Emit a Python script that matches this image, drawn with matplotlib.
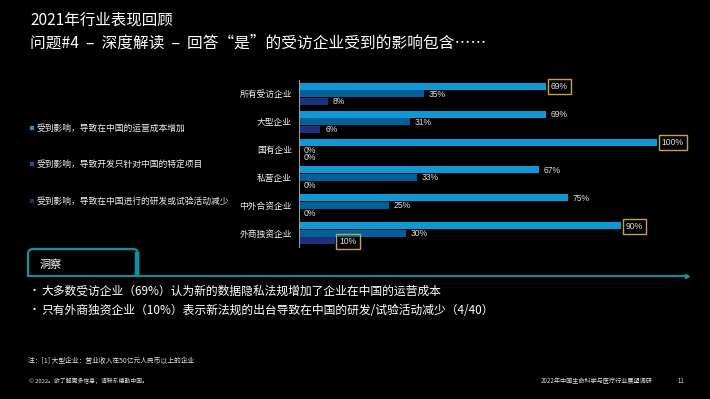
import matplotlib
matplotlib.use("Agg")
import matplotlib.pyplot as plt
from matplotlib.path import Path
from matplotlib.patches import PathPatch, Rectangle

plt.rcParams['font.family'] = ['Noto Sans CJK SC', 'DejaVu Sans']

categories = ["所有受访企业", "大型企业", "国有企业", "私营企业", "中外合资企业", "外商独资企业"]
series_names = ["受到影响，导致在中国的运营成本增加",
                "受到影响，导致开发只针对中国的特定项目",
                "受到影响，导致在中国进行的研发或试验活动减少"]
cost_increase = [69, 69, 100, 67, 75, 90]
china_projects = [35, 31, 0, 33, 25, 30]
rd_reduced = [8, 6, 0, 0, 0, 10]
# highlighted (series index, category index)
highlights = [(0, 0), (0, 2), (0, 5), (2, 5)]

title = "2021年行业表现回顾"
subtitle = "问题#4 – 深度解读 – 回答“是”的受访企业受到的影响包含……"
insight_title = "洞察"
bullets = ["大多数受访企业（69%）认为新的数据隐私法规增加了企业在中国的运营成本",
           "只有外商独资企业（10%）表示新法规的出台导致在中国的研发/试验活动减少（4/40）"]
footnote = "注：[1] 大型企业：营业收入在50亿元人民币以上的企业"
copyright_txt = "© 2022。欲了解更多信息，请联系德勤中国。"
footer_right = "2022年中国生命科学与医疗行业展望调研"
page_no = "11"

colors = ["#0a9ad8", "#00609a", "#1d2f7d"]
teal = "#0097a9"
gold = "#c9a43a"

W, H = 710, 399
fig = plt.figure(figsize=(W / 100, H / 100), dpi=100, facecolor="black")

# overlay in pixel coordinates
ov = fig.add_axes([0, 0, 1, 1], facecolor="none")
ov.set_xlim(0, W)
ov.set_ylim(H, 0)
ov.axis("off")

# bar chart axes
x0, x1, y0, y1 = 299, 657, 80, 247
ax = fig.add_axes([x0 / W, 1 - y1 / H, (x1 - x0) / W, (y1 - y0) / H], facecolor="none")
ax.set_xlim(0, 100)
ax.set_ylim(5.5, -0.5)
for s in ["top", "right", "bottom"]:
    ax.spines[s].set_visible(False)
ax.spines["left"].set_color("#9a9a9a")
ax.spines["left"].set_linewidth(0.8)
ax.set_xticks([])
ax.set_yticks(range(len(categories)))
ax.set_yticklabels(categories, color="#f0f0f0", fontsize=6.3)
ax.tick_params(axis="y", length=0, pad=5)

series = [cost_increase, china_projects, rd_reduced]
offsets = [-0.27, 0.0, 0.27]
bh = 0.25
num_font = ['Liberation Sans Narrow', 'Liberation Sans', 'DejaVu Sans']
for si, (vals, off, c) in enumerate(zip(series, offsets, colors)):
    ys = [i + off for i in range(len(categories))]
    ax.barh(ys, vals, height=bh, color=c, linewidth=0)
    for ci, (v, y) in enumerate(zip(vals, ys)):
        hl = (si, ci) in highlights
        kw = {}
        if hl:
            kw["bbox"] = dict(boxstyle="square,pad=0.35", fc="none", ec=gold, lw=1.0)
        ax.text(v + 1.3, y + 0.02, f"{v}%", va="center", ha="left", fontsize=6.2,
                color="#e0e0e0", family=num_font, clip_on=False, **kw)

# titles
ov.text(30, 20, title, color="white", fontsize=11.2, va="center", ha="left")
ov.text(30, 43, subtitle.replace("#4 – ", "#4  –  ").replace("解读 – ", "解读  –  "),
        color="white", fontsize=11.3, va="center", ha="left")

# legend
leg_y = [128, 164, 201]
for name, c, y in zip(series_names, colors, leg_y):
    ov.add_patch(Rectangle((29.5, y - 2.3), 4.6, 4.6, color=c, lw=0))
    ov.text(37, y, name, color="#f0f0f0", fontsize=6.3, va="center", ha="left")

# insight tab
L, R, T, B, r = 28, 138, 249, 276, 5
verts = [(L, B), (L, T + r), (L, T), (L + r, T), (R - r, T), (R, T), (R, T + r), (R, B)]
codes = [Path.MOVETO, Path.LINETO, Path.CURVE3, Path.CURVE3, Path.LINETO, Path.CURVE3, Path.CURVE3, Path.LINETO]
ov.add_patch(PathPatch(Path(verts, codes), fc="none", ec=teal, lw=1.6))
ov.plot([R - 1.2, R - 1.2], [T + 3, B], color=teal, lw=3.2, solid_capstyle="butt")
ov.plot([L, 686], [B, B], color=teal, lw=1.4)
ov.plot([687], [B], marker=">", color=teal, markersize=3, mec=teal)
ov.text(40, 265, insight_title, color="white", fontsize=8, va="center", ha="left")

for y, b in zip([291, 310], bullets):
    ov.text(29, y, "•", color="white", fontsize=8, va="center", ha="left")
    ov.text(41, y, b, color="white", fontsize=8.5, va="center", ha="left")

# footer
ov.text(28, 361, footnote, color="#e0e0e0", fontsize=4.9, va="center", ha="left")
ov.text(29, 381, copyright_txt, color="#e0e0e0", fontsize=4.2, va="center", ha="left")
ov.text(653, 381, footer_right, color="#e0e0e0", fontsize=4.4, va="center", ha="right")
ov.text(678, 381, page_no, color="#e0e0e0", fontsize=4.4, va="center", ha="left")

fig.savefig("out.png", dpi=100, facecolor="black")
